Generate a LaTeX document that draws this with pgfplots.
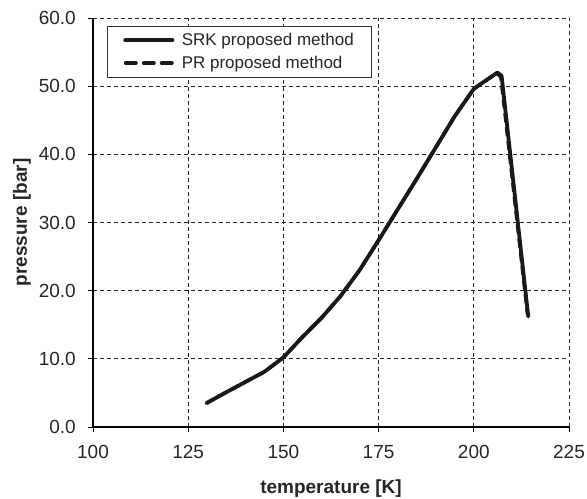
\documentclass[border=0pt]{standalone}
\usepackage{fontspec}
\setmainfont{Liberation Sans}
\usepackage{pgfplots}
\pgfplotsset{compat=1.18}
\usetikzlibrary{calc}
\begin{document}
\begin{tikzpicture}
\begin{axis}[
  name=ax,
  scale only axis,
  width=476pt, height=409pt,
  xmin=100, xmax=225, ymin=0, ymax=60,
  xtick={100,125,...,225}, ytick={0,10,...,60},
  axis x line=bottom, axis y line=left,
  axis line style={-, line width=1.3pt, black},
  tick align=outside, major tick length=5pt,
  tick style={black, line width=0.8pt},
  grid=major,
  major grid style={dashed, dash pattern=on 4pt off 3pt, black!85, line width=0.8pt},
  /pgf/number format/assume math mode=true,
  yticklabel style={/pgf/number format/fixed, /pgf/number format/fixed zerofill, /pgf/number format/precision=1,
    font=\fontsize{19}{21}\selectfont, text=black!85, anchor=east, inner sep=0pt, xshift=-12pt},
  xticklabel style={font=\fontsize{19}{21}\selectfont, text=black!85, anchor=north, inner sep=0pt, yshift=-13pt},
  xlabel={\textbf{temperature [K]}},
  ylabel={\textbf{pressure [bar]}},
  xlabel style={font=\fontsize{19}{21}\selectfont, text=black!85, at={(rel axis cs:0.5,0)}, anchor=base, inner sep=0pt, yshift=-67pt},
  ylabel style={font=\fontsize{19}{21}\selectfont, text=black!85, at={(rel axis cs:0,0.5)}, anchor=south, inner sep=0pt, yshift=62pt},
  legend style={draw=black!80, line width=0.6pt, fill=white, at={(0.0294,0.98)}, anchor=north west,
    font=\fontsize{17}{19}\selectfont, row sep=5pt, column sep=4pt, inner xsep=16pt, inner ysep=5pt, text=black!85,
    nodes={inner sep=2pt}},
  legend cell align=left,
  clip=false,
]
\addplot[black!90, line width=3.8pt, line join=round, line cap=round,
  legend image code/.code={\draw[black!90, line width=4pt, line cap=round] (1.5pt,0pt) -- (48.5pt,0pt);}] coordinates {
(129.8,3.5) (135,5.1) (140,6.6) (145,8.1) (150,10.2) (155,13.2) (160,16.0) (165,19.2)
(170,23.0) (175,27.4) (180,31.9) (185,36.4) (190,41.0) (195,45.6) (200,49.6) (201.5,50.2)
(206.2,52.0) (207.3,51.5) (214.3,16.2)
};
\addlegendentry{SRK proposed method}
\addplot[black!90, line width=3.5pt, dashed, dash pattern=on 9pt off 5pt, line join=round,
  legend image code/.code={\draw[black!90, line width=4pt, line cap=round, dash pattern=on 10pt off 8pt] (2pt,0pt) -- (50pt,0pt);}] coordinates {
(129.8,3.5) (135,5.1) (140,6.6) (145,8.1) (150,10.2) (155,13.2) (160,16.0) (165,19.2)
(170,23.0) (175,27.4) (180,31.9) (185,36.4) (190,41.0) (195,45.6) (200,49.6) (201.5,50.2)
(206.0,51.9) (207.1,51.4) (214.1,16.6)
};
\addlegendentry{PR proposed method}
\end{axis}
\pgfresetboundingbox
\path ($(ax.south west)+(-93pt,-72pt)$) rectangle ($(ax.north east)+(18pt,18pt)$);
\end{tikzpicture}
\end{document}
